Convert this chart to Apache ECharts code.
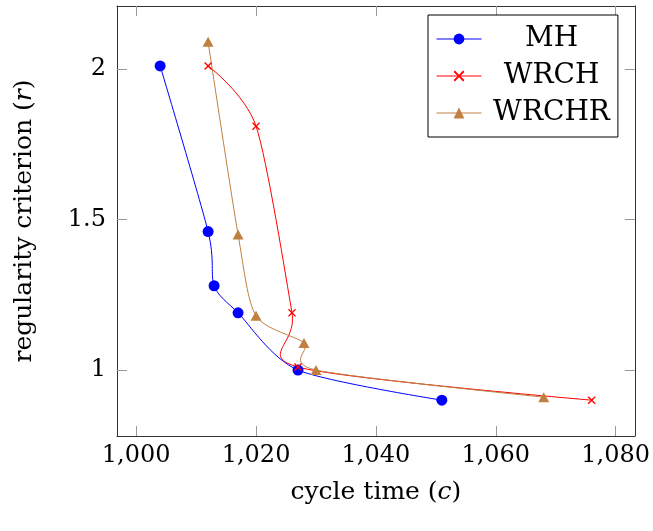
<!DOCTYPE html>
<html><head><meta charset="utf-8">
<script src="https://cdn.jsdelivr.net/npm/echarts@6/dist/echarts.min.js"></script>
<style>html,body{margin:0;padding:0;background:#fff}#c{width:653px;height:531px}</style>
</head><body><div id="c"></div>
<script>
// ---- data ----
const mhX = [1004, 1012, 1013, 1017, 1027, 1051];
const mhY = [2.01, 1.46, 1.28, 1.19, 1.0, 0.9];
const wrchX = [1012, 1020, 1026, 1027, 1076];
const wrchY = [2.01, 1.81, 1.19, 1.01, 0.9];
const wrchrX = [1012, 1017, 1020, 1028, 1030, 1068];
const wrchrY = [2.09, 1.45, 1.18, 1.09, 1.0, 0.91];
const xTicks = [1000, 1020, 1040, 1060, 1080];
const yTicks = [1, 1.5, 2];
const seriesNames = ['MH', 'WRCH', 'WRCHR'];
const xName = 'cycle time ({i|c})';
const yName = 'regularity criterion ({i|r})';

// ---- style ----
const F = 'DejaVu Serif';
const colors = ['#0000ff', '#ff0000', '#bf8040'];
const crossPath = 'path://M0,1.2L1.2,0L5,3.8L8.8,0L10,1.2L6.2,5L10,8.8L8.8,10L5,6.2L1.2,10L0,8.8L3.8,5Z';
const symbols = ['circle', crossPath, 'triangle'];
const symbolSizes = [11, 8, [11, 10]];
const T = 0.13; // TikZ-like smooth tension factor
const X_MIN = 996.8, X_MAX = 1083.2, Y_MIN = 0.781, Y_MAX = 2.209;

const xsAll = [mhX, wrchX, wrchrX];
const ysAll = [mhY, wrchY, wrchrY];

function fmt(v) { return String(v).replace(/\B(?=(\d{3})+(?!\d))/g, ','); }

function markerSeries(k) {
  return {
    type: 'line', name: seriesNames[k], z: 3,
    data: xsAll[k].map((x, i) => [x, ysAll[k][i]]),
    symbol: symbols[k], symbolSize: symbolSizes[k], showSymbol: true,
    itemStyle: { color: colors[k] },
    lineStyle: { color: colors[k], width: 1, opacity: 0 },
    silent: true
  };
}
function curveSeries(k) {
  const xs = xsAll[k], ys = ysAll[k], color = colors[k];
  return {
    type: 'custom', name: seriesNames[k], coordinateSystem: 'cartesian2d', z: 2, silent: true,
    data: xs.slice(0, -1).map((x, i) => [x, ys[i]]),
    encode: { x: 0, y: 1 },
    renderItem(params, api) {
      const P = xs.map((x, j) => api.coord([x, ys[j]]));
      const i = params.dataIndex, n = P.length;
      const a = P[i], b = P[i + 1];
      const c1 = i === 0 ? a : [a[0] + T * (b[0] - P[i - 1][0]), a[1] + T * (b[1] - P[i - 1][1])];
      const c2 = i === n - 2 ? b : [b[0] - T * (P[i + 2][0] - a[0]), b[1] - T * (P[i + 2][1] - a[1])];
      return {
        type: 'bezierCurve',
        shape: { x1: a[0], y1: a[1], cpx1: c1[0], cpy1: c1[1], cpx2: c2[0], cpy2: c2[1], x2: b[0], y2: b[1] },
        style: { stroke: color, lineWidth: 1, fill: 'none' }
      };
    }
  };
}

const tickStyle = { show: true, inside: true, length: 10, lineStyle: { color: '#999', width: 1 } };
const lineStyleAx = { show: true, lineStyle: { color: '#333', width: 1 } };
const nameStyle = { fontSize: 25, fontFamily: F, color: '#000',
  rich: { i: { fontStyle: 'italic', fontSize: 25, fontFamily: F, color: '#000' } } };
const labelStyle = { fontSize: 24, fontFamily: F, color: '#000' };

const option = {
  animation: false,
  backgroundColor: '#fff',
  grid: { left: 117, right: 18, top: 6, bottom: 95 },
  xAxis: [
    { type: 'value', position: 'bottom', min: X_MIN, max: X_MAX, splitLine: { show: false },
      axisLine: lineStyleAx, axisTick: Object.assign({ customValues: xTicks }, tickStyle),
      axisLabel: Object.assign({ customValues: xTicks, formatter: fmt, margin: 8 }, labelStyle),
      name: xName, nameLocation: 'middle', nameGap: 44, nameTextStyle: nameStyle },
    { type: 'value', position: 'top', min: X_MIN, max: X_MAX, splitLine: { show: false },
      axisLine: lineStyleAx, axisTick: Object.assign({ customValues: xTicks }, tickStyle),
      axisLabel: { show: false } }
  ],
  yAxis: [
    { type: 'value', position: 'left', min: Y_MIN, max: Y_MAX, splitLine: { show: false },
      axisLine: lineStyleAx, axisTick: Object.assign({ customValues: yTicks }, tickStyle),
      axisLabel: Object.assign({ customValues: yTicks, margin: 11 }, labelStyle),
      name: yName, nameLocation: 'middle', nameGap: 80, nameRotate: 90, nameTextStyle: nameStyle },
    { type: 'value', position: 'right', min: Y_MIN, max: Y_MAX, splitLine: { show: false },
      axisLine: lineStyleAx, axisTick: Object.assign({ customValues: yTicks }, tickStyle),
      axisLabel: { show: false } }
  ],
  legend: {
    orient: 'vertical', left: 428, top: 15, padding: [10, 8, 10, 8], itemGap: 9,
    itemWidth: 45, itemHeight: 13.5,
    borderColor: '#000', borderWidth: 1, backgroundColor: '#fff',
    data: seriesNames.map((n, i) => ({ name: n, lineStyle: { opacity: 1, width: 1, color: colors[i] } })),
    formatter: n => '{t|' + n + '}',
    textStyle: { rich: { t: { width: 130, align: 'center', fontSize: 28, fontFamily: F, color: '#000' } } }
  },
  series: [markerSeries(0), markerSeries(1), markerSeries(2), curveSeries(0), curveSeries(1), curveSeries(2)]
};
const chart = echarts.init(document.getElementById('c'), null, { renderer: 'canvas' });
chart.setOption(option);
</script></body></html>
